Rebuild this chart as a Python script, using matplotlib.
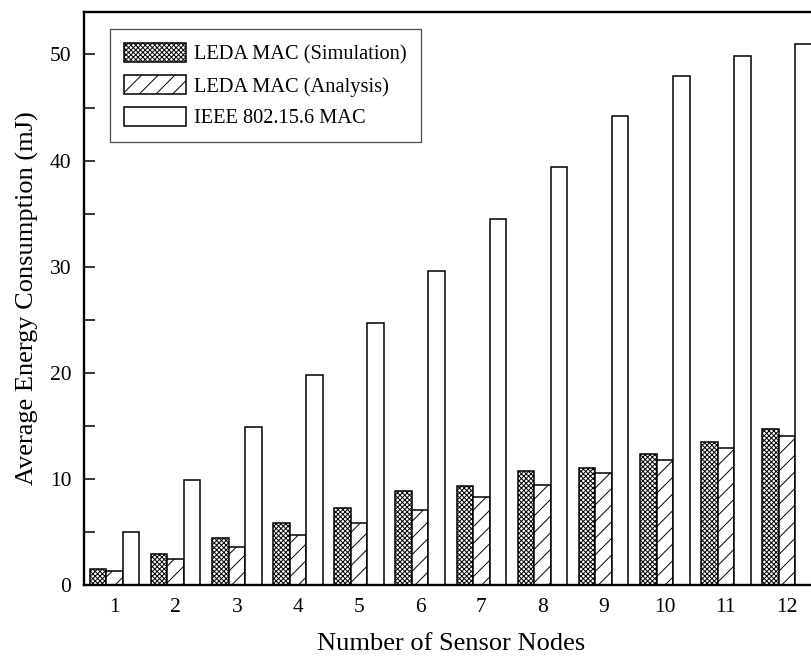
import numpy as np
import matplotlib
matplotlib.use("Agg")
import matplotlib.pyplot as plt
from matplotlib.ticker import MultipleLocator

# data
nodes = [1, 2, 3, 4, 5, 6, 7, 8, 9, 10, 11, 12]
leda_sim = [1.48, 2.92, 4.4, 5.85, 7.29, 8.86, 9.33, 10.74, 11.02, 12.34, 13.5, 14.69]
leda_ana = [1.29, 2.42, 3.55, 4.75, 5.88, 7.11, 8.33, 9.43, 10.59, 11.75, 12.9, 14.07]
ieee = [5.0, 9.9, 14.88, 19.8, 24.69, 29.58, 34.52, 39.4, 44.2, 47.96, 49.88, 51.03]
labels = ["LEDA MAC (Simulation)", "LEDA MAC (Analysis)", "IEEE 802.15.6 MAC"]

plt.rcParams["font.family"] = ["Liberation Serif", "DejaVu Serif"]
plt.rcParams["hatch.linewidth"] = 0.7

fig = plt.figure(figsize=(8.12, 6.57), dpi=100)
ax = fig.add_axes([84 / 812, 72 / 657, 733.6 / 812, 573 / 657])

x = np.array(nodes)
w = 0.27
ax.bar(x - w, leda_sim, w, facecolor="white", edgecolor="black", hatch="xxxxxxx",
       linewidth=1.1, label=labels[0])
ax.bar(x, leda_ana, w, facecolor="white", edgecolor="black", hatch="//",
       linewidth=1.1, label=labels[1])
ax.bar(x + w, ieee, w, facecolor="white", edgecolor="black",
       linewidth=1.1, label=labels[2])

ax.set_xlim(0.5, 12.5)
ax.set_ylim(0, 54)
ax.set_xticks(nodes)
ax.set_yticks([0, 10, 20, 30, 40, 50])
ax.yaxis.set_minor_locator(MultipleLocator(5))
ax.tick_params(axis="y", which="both", direction="in", length=8, width=1.1,
               pad=9, labelsize=15.5)
ax.tick_params(axis="x", which="both", length=0, pad=9, labelsize=15.5)

for s in ax.spines.values():
    s.set_linewidth(1.7)

ax.set_xlabel("Number of Sensor Nodes", fontsize=19, labelpad=12)
ax.set_ylabel("Average Energy Consumption (mJ)", fontsize=19, labelpad=8)

leg = ax.legend(loc="upper left", bbox_to_anchor=(0.0354, 0.970), borderaxespad=0,
                fontsize=14.7, fancybox=False, framealpha=1, edgecolor="0.3",
                handlelength=3.0, handleheight=1.05, handletextpad=0.4,
                labelspacing=0.5, borderpad=0.7)
leg.get_frame().set_linewidth(0.9)

fig.savefig("out.png", dpi=100)
